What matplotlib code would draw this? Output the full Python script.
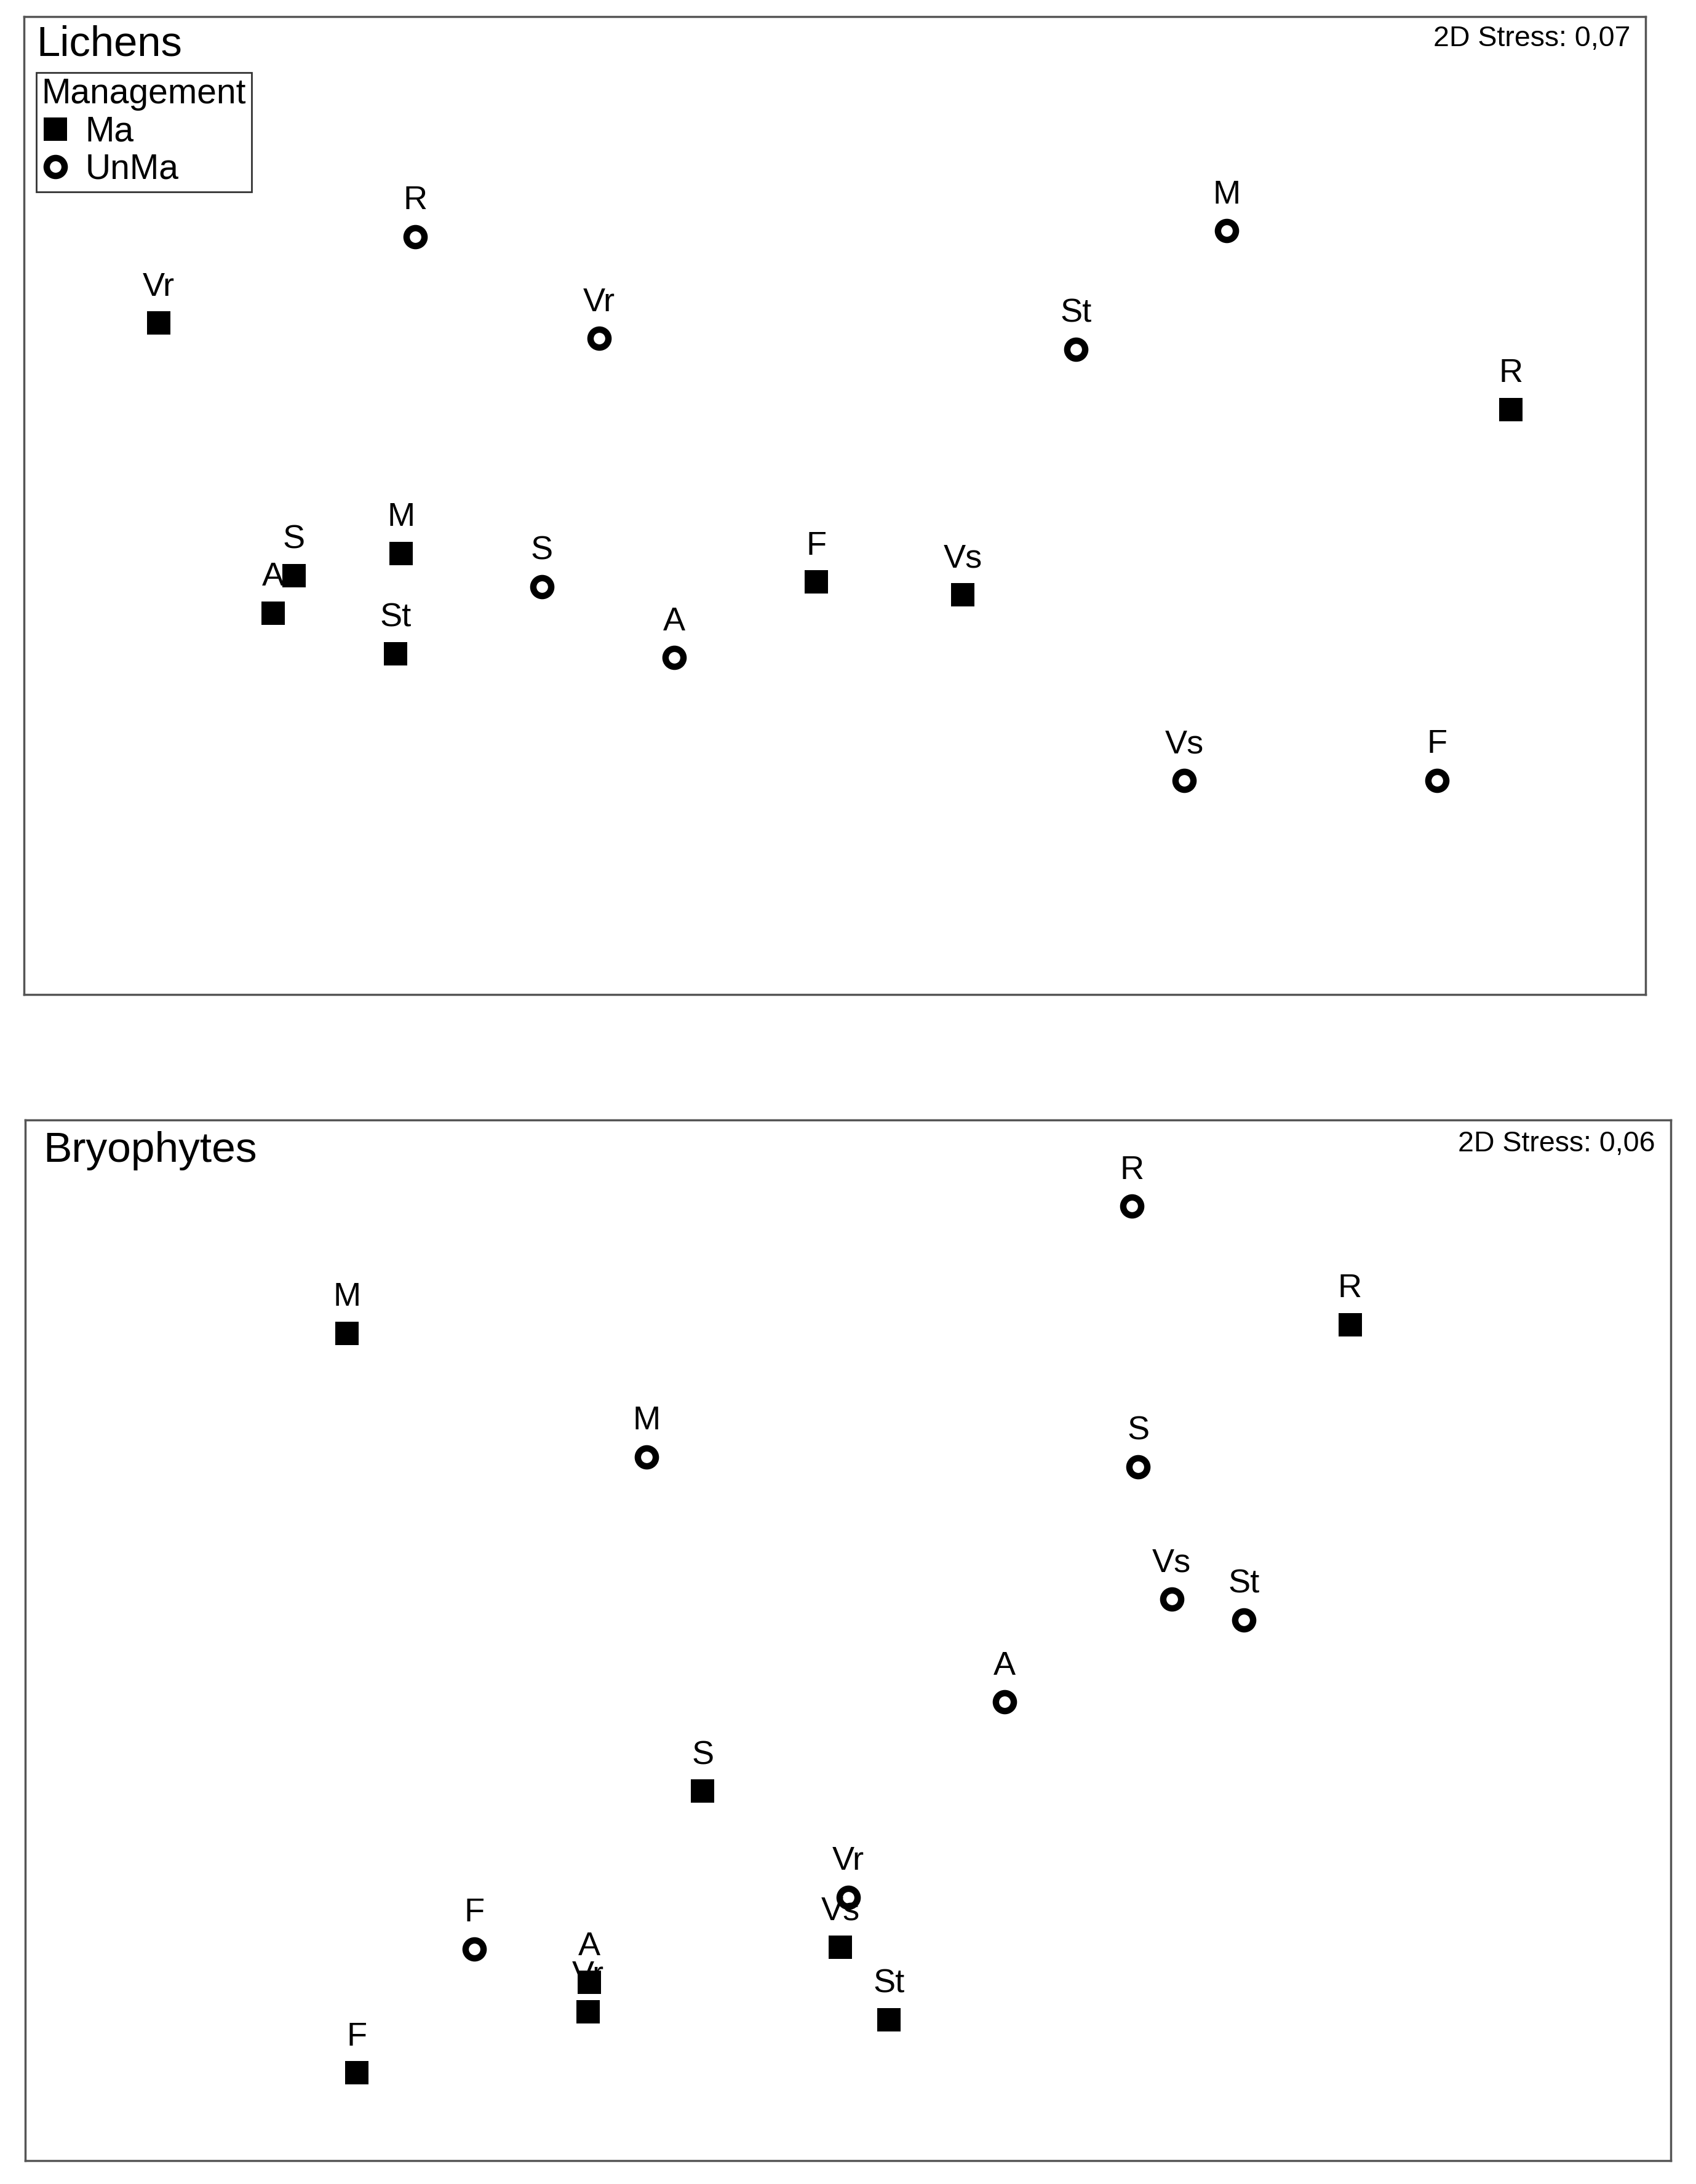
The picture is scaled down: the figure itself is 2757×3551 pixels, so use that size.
import matplotlib
matplotlib.use("Agg")
import matplotlib.pyplot as plt
from matplotlib.lines import Line2D

plt.rcParams['font.family'] = ['Liberation Sans', 'DejaVu Sans']

# nMDS coordinates (MDS1, MDS2)
lich_ma_lab = ['Vr', 'S', 'A', 'M', 'St', 'F', 'Vs', 'R']
lich_ma_x = [-1.334, -1.067, -1.108, -0.855, -0.866, -0.036, 0.253, 1.334]
lich_ma_y = [0.360, -0.138, -0.212, -0.094, -0.292, -0.151, -0.176, 0.190]
lich_un_lab = ['R', 'Vr', 'S', 'A', 'St', 'M', 'Vs', 'F']
lich_un_x = [-0.828, -0.465, -0.578, -0.316, 0.476, 0.773, 0.690, 1.188]
lich_un_y = [0.531, 0.330, -0.160, -0.300, 0.308, 0.542, -0.542, -0.542]

bryo_ma_lab = ['M', 'R', 'S', 'Vs', 'St', 'A', 'Vr', 'F']
bryo_ma_x = [-0.989, 0.991, -0.287, -0.015, 0.081, -0.510, -0.513, -0.969]
bryo_ma_y = [0.606, 0.623, -0.298, -0.606, -0.749, -0.675, -0.733, -0.854]
bryo_un_lab = ['R', 'M', 'S', 'Vs', 'St', 'A', 'Vr', 'F']
bryo_un_x = [0.560, -0.397, 0.573, 0.639, 0.782, 0.309, 0.001, -0.738]
bryo_un_y = [0.857, 0.362, 0.342, 0.081, 0.040, -0.122, -0.507, -0.609]

stress = ['0,07', '0,06']

SQ = dict(marker='s', ms=28, mfc='black', mec='black', mew=0, ls='none')
CI = dict(marker='o', ms=21, mfc='white', mec='black', mew=7.5, ls='none')


def panel(ax, title, st, ma, un, xlim, ylim, title_x, title_size):
    ax.set_xlim(*xlim)
    ax.set_ylim(*ylim)
    ax.set_xticks([])
    ax.set_yticks([])
    for sp in ax.spines.values():
        sp.set_color('#555555')
        sp.set_linewidth(2.5)

    for (lab, xs, ys), style in ((ma, SQ), (un, CI)):
        ax.plot(xs, ys, **style)
        for t, x, y in zip(lab, xs, ys):
            ax.annotate(t, (x, y), xytext=(0, 32), textcoords='offset points',
                        ha='center', va='baseline', fontsize=39)

    ax.text(title_x, 0.96, title, transform=ax.transAxes, ha='left',
            va='baseline', fontsize=title_size)
    ax.text(0.9907, 0.9696, '2D Stress: ' + st, transform=ax.transAxes,
            ha='right', va='baseline', fontsize=33.5)


fig = plt.figure(figsize=(27.57, 35.51), dpi=100)
ax1 = fig.add_axes([0.01397, 0.5446, 0.9563, 0.4478])
ax2 = fig.add_axes([0.01487, 0.0107, 0.9702, 0.4765])

panel(ax1, 'Lichens', stress[0],
      (lich_ma_lab, lich_ma_x, lich_ma_y), (lich_un_lab, lich_un_x, lich_un_y),
      (-1.6, 1.6), (-0.965, 0.965), 0.0078, 49.5)
panel(ax2, 'Bryophytes', stress[1],
      (bryo_ma_lab, bryo_ma_x, bryo_ma_y), (bryo_un_lab, bryo_un_x, bryo_un_y),
      (-1.624, 1.624), (-1.027, 1.027), 0.0108, 50)

handles = [Line2D([], [], **SQ), Line2D([], [], **CI)]
leg = ax1.legend(handles, ['Ma', 'UnMa'], title='Management', loc='upper left',
                 bbox_to_anchor=(0.0078, 0.943), fontsize=41, title_fontsize=41,
                 alignment='left', frameon=True, fancybox=False, edgecolor='black',
                 handlelength=0.8, handletextpad=0.45, borderpad=0.15,
                 labelspacing=0.13, borderaxespad=0, markerscale=1.0)
leg.get_frame().set_linewidth(2)

fig.savefig('out.png', dpi=100, facecolor='white')
